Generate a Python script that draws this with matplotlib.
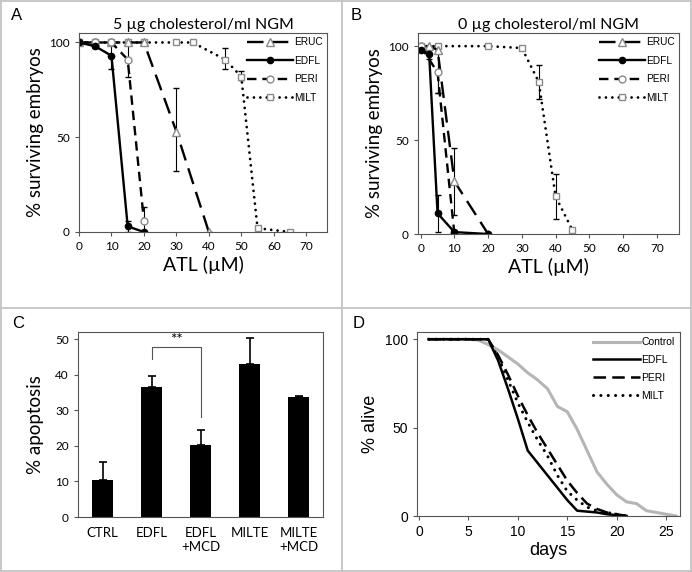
import numpy as np
import matplotlib
matplotlib.use("Agg")
import matplotlib.pyplot as plt
from matplotlib.lines import Line2D

plt.rcParams['font.family'] = ['Lato', 'DejaVu Sans']

# ---- panel A: 5 ug cholesterol ----
a_eruc_x = [0, 5, 10, 15, 20, 30, 40]
a_eruc_y = [100, 100, 100, 100, 100, 53, 0]
a_eruc_lo = [0, 0, 0, 0, 0, 21, 0]
a_eruc_hi = [0, 0, 0, 0, 0, 23, 0]
a_edfl_x = [0, 5, 10, 15, 20]
a_edfl_y = [100, 98, 93, 3, 0]
a_edfl_lo = [0, 1, 7, 3, 0]
a_edfl_hi = [0, 1, 7, 3, 0]
a_peri_x = [0, 5, 10, 15, 20]
a_peri_y = [100, 100, 100, 91, 6]
a_peri_lo = [0, 0, 0, 9, 6]
a_peri_hi = [0, 0, 0, 9, 7]
a_milt_x = [0, 5, 10, 15, 20, 30, 35, 45, 50, 55, 65]
a_milt_y = [100, 100, 100, 100, 100, 100, 100, 91, 82, 2, 0]
a_milt_lo = [0, 0, 0, 0, 0, 0, 0, 5, 2, 1, 0]
a_milt_hi = [0, 0, 0, 0, 0, 0, 0, 6, 3, 1, 0]

# ---- panel B: 0 ug cholesterol ----
b_eruc_x = [0, 2.5, 5, 10, 20]
b_eruc_y = [100, 100, 98, 28, 0]
b_eruc_lo = [0, 0, 23, 18, 0]
b_eruc_hi = [0, 0, 2, 18, 0]
b_edfl_x = [0, 2.5, 5, 10, 20]
b_edfl_y = [98, 96, 11, 1, 0]
b_edfl_lo = [1, 3, 10, 1, 0]
b_edfl_hi = [1, 3, 10, 1, 0]
b_peri_x = [0, 5, 10]
b_peri_y = [100, 86, 0]
b_peri_lo = [0, 11, 0]
b_peri_hi = [0, 11, 0]
b_milt_x = [0, 5, 20, 30, 35, 40, 45]
b_milt_y = [100, 100, 100, 99, 81, 20, 2]
b_milt_lo = [0, 0, 0, 1, 9, 12, 1]
b_milt_hi = [0, 0, 0, 1, 9, 12, 1]

# ---- panel C: apoptosis ----
c_groups = ['CTRL', 'EDFL', 'EDFL\n+MCD', 'MILTE', 'MILTE\n+MCD']
c_values = [10.3, 36.7, 20.4, 43.0, 33.7]
c_errors = [5.2, 3.1, 4.1, 7.3, 0.5]

# ---- panel D: survival ----
d_control_x = list(range(1, 27))
d_control_y = [100, 100, 100, 100, 100, 99.5, 97, 94, 90, 86, 81, 77, 72,
               62, 59, 49, 37, 25, 18, 12, 8, 7, 3, 2, 1, 0]
d_days = list(range(1, 22))
d_edfl_y = [100, 100, 100, 100, 100, 100, 100, 88, 72, 55, 37, 30, 23, 16,
            9, 3, 2.5, 2, 1, 0.5, 0]
d_peri_y = [100, 100, 100, 100, 100, 100, 100, 91, 80, 68, 57, 47, 38, 29,
            20, 13, 7, 4, 2, 1, 0]
d_milt_y = [100, 100, 100, 100, 100, 100, 100, 90, 77, 64, 53, 43, 34, 23,
            14, 9, 5, 3, 2, 1, 0]

W, H = 692, 572
fig = plt.figure(figsize=(W / 100, H / 100), dpi=100)


def ax_px(l, t, r, b):
    return fig.add_axes([l / W, 1 - b / H, (r - l) / W, (b - t) / H])


# grey panel frame
grey = '#c4c4c4'
for xs, ys in [([0.5 / W, 0.5 / W], [0, 1]), ([1 - 1.5 / W] * 2, [0, 1]),
               ([342 / W] * 2, [0, 1]), ([0, 1], [1 - 308 / H] * 2),
               ([0, 1], [1 - 0.5 / H] * 2), ([0, 1], [1.5 / H] * 2)]:
    fig.add_artist(Line2D(xs, ys, color=grey, lw=1.3))

mk_edge = '#8a8a8a'
DOT = (0, (0.01, 2.3))

styles = {
    'ERUC': dict(color='k', lw=1.7, ls=(0, (7, 3.5)), marker='^', ms=6,
                 mfc='white', mec=mk_edge, mew=1),
    'EDFL': dict(color='k', lw=1.7, ls='-', marker='o', ms=4.5, mfc='k',
                 mec='k'),
    'PERI': dict(color='k', lw=1.7, ls=(0, (4, 2.5)), marker='o', ms=5,
                 mfc='white', mec=mk_edge, mew=1),
    'MILT': dict(color='k', lw=2, ls=DOT, dash_capstyle='round', marker='s',
                 ms=5, mfc='white', mec=mk_edge, mew=1),
}


def style_ax(ax):
    for s in ax.spines.values():
        s.set_color('#555555')
        s.set_linewidth(0.8)
    ax.tick_params(direction='out', length=3, width=0.8, color='#555555',
                   labelsize=8.5)


def dose_panel(ax, data, title, xlim, ylim):
    for name in ['MILT', 'ERUC', 'PERI', 'EDFL']:
        x, y, lo, hi = data[name]
        ax.errorbar(x, y, yerr=[lo, hi], ecolor='k', elinewidth=0.8,
                    capsize=2.5, **styles[name])
    ax.set_xlim(*xlim)
    ax.set_ylim(*ylim)
    ax.set_xticks(range(0, 80, 10))
    ax.set_yticks([0, 50, 100])
    style_ax(ax)
    ax.set_xlabel('ATL (µM)', fontsize=14, labelpad=3)
    ax.set_ylabel('% surviving embryos', fontsize=13.5, labelpad=4)
    ax.set_title(title, fontsize=11.5, pad=3)
    names = ['ERUC', 'EDFL', 'PERI', 'MILT']
    handles = [Line2D([], [], **styles[n]) for n in names]
    ax.legend(handles, names, loc='upper right', frameon=False,
              prop={'family': 'Liberation Sans', 'size': 7.3},
              handlelength=4.6, handletextpad=0.1, labelspacing=0.85,
              borderaxespad=0.1, borderpad=0.3)


axA = ax_px(79, 33, 327, 232)
dose_panel(axA, {'ERUC': (a_eruc_x, a_eruc_y, a_eruc_lo, a_eruc_hi),
                 'EDFL': (a_edfl_x, a_edfl_y, a_edfl_lo, a_edfl_hi),
                 'PERI': (a_peri_x, a_peri_y, a_peri_lo, a_peri_hi),
                 'MILT': (a_milt_x, a_milt_y, a_milt_lo, a_milt_hi)},
           '5 µg cholesterol/ml NGM', (0, 76.4), (0, 105))

axB = ax_px(418, 33, 679, 234)
dose_panel(axB, {'ERUC': (b_eruc_x, b_eruc_y, b_eruc_lo, b_eruc_hi),
                 'EDFL': (b_edfl_x, b_edfl_y, b_edfl_lo, b_edfl_hi),
                 'PERI': (b_peri_x, b_peri_y, b_peri_lo, b_peri_hi),
                 'MILT': (b_milt_x, b_milt_y, b_milt_lo, b_milt_hi)},
           '0 µg cholesterol/ml NGM', (-0.8, 76.6), (0, 107))

# ---- C ----
axC = ax_px(78, 332, 323, 517)
xc = np.arange(len(c_groups))
axC.bar(xc, c_values, width=0.41, color='k')
axC.errorbar(xc, c_values, yerr=[np.zeros(len(c_values)), c_errors], fmt='none',
             ecolor='k', elinewidth=1.2, capsize=3, capthick=1.2)
axC.set_xlim(-0.5, 4.5)
axC.set_ylim(0, 52.1)
axC.set_yticks(range(0, 51, 10))
axC.set_xticks(xc)
axC.set_xticklabels(c_groups, fontsize=9)
style_ax(axC)
axC.tick_params(axis='x', length=0, pad=7, labelsize=9.5)
axC.set_ylabel('% apoptosis', fontsize=13.5, labelpad=8)
axC.plot([1, 1, 2, 2], [44.5, 47.9, 47.9, 28.2], color='#555555', lw=0.8)
axC.text(1.5, 48.0, '**', ha='center', va='bottom', fontsize=11)

# ---- D ----
axD = ax_px(417, 332, 680, 516)
axD.plot(d_control_x, d_control_y, color='#b5b5b5', lw=2.2, label='Control')
axD.plot(d_days, d_edfl_y, color='k', lw=1.8, label='EDFL')
axD.plot(d_days, d_peri_y, color='k', lw=1.8, ls=(0, (5, 2.5)), label='PERI')
axD.plot(d_days, d_milt_y, color='k', lw=2.2, ls=(0, (0.01, 2.4)),
         dash_capstyle='round', label='MILT')
axD.set_xlim(-0.2, 26.4)
axD.set_ylim(0, 104.1)
axD.set_xticks(range(0, 26, 5))
axD.set_yticks([0, 50, 100])
style_ax(axD)
for t in axD.get_xticklabels() + axD.get_yticklabels():
    t.set_fontfamily('Liberation Sans')
    t.set_fontsize(10)
axD.set_xlabel('days', fontsize=13, family='Liberation Sans', labelpad=2)
axD.set_ylabel('% alive', fontsize=13, family='Liberation Sans', labelpad=4)
axD.legend(loc='upper right', frameon=False, handlelength=4.6,
           handletextpad=0.1, labelspacing=0.75, borderaxespad=0.2,
           borderpad=0.3, prop={'family': 'Liberation Sans', 'size': 7.5})

# panel letters
for txt, x, y in [('A', 11, 15), ('B', 351, 15), ('C', 12, 323), ('D', 353, 323)]:
    fig.text(x / W, 1 - y / H, txt, fontsize=12, va='center', ha='left',
             family='Liberation Sans')

fig.savefig('out.png', dpi=100)
